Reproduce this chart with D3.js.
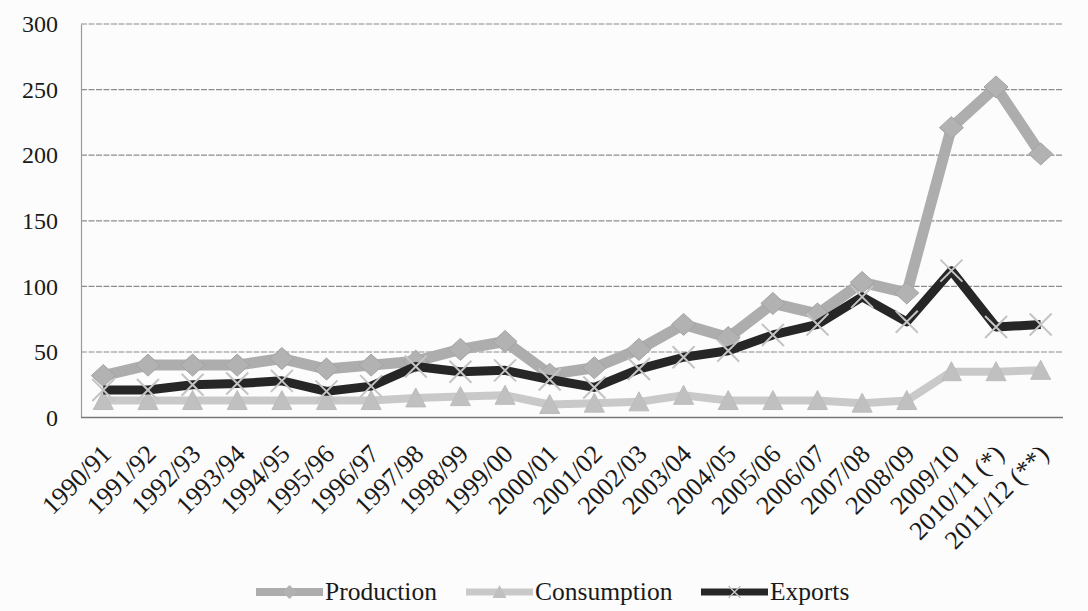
<!DOCTYPE html>
<html>
<head>
<meta charset="utf-8">
<script src="https://cdn.jsdelivr.net/npm/d3@7"></script>
<style>
  html, body { margin: 0; padding: 0; background: #fcfcfc; }
  svg { display: block; }
</style>
</head>
<body>
<svg id="chart" width="1088" height="611"></svg>
<script>
const categories = ["1990/91","1991/92","1992/93","1993/94","1994/95","1995/96","1996/97","1997/98","1998/99","1999/00","2000/01","2001/02","2002/03","2003/04","2004/05","2005/06","2006/07","2007/08","2008/09","2009/10","2010/11 (*)","2011/12 (**)"];
const production  = [32,40,40,40,45,37,40,43,52,58,33,38,52,71,61,87,79,103,95,221,252,201];
const consumption = [13,13,13,13,13,13,13,15,16,17,10,11,12,17,13,13,13,11,13,35,35,36];
const exportsData = [21,21,25,26,28,20,24,39,35,36,29,23,37,46,51,63,71,92,73,112,69,71];
const yTicks = [0,50,100,150,200,250,300];
const seriesNames = ["Production","Consumption","Exports"];

const svg = d3.select("#chart");
const W = 1088, H = 611;
const plot = {left: 81, right: 1063, top: 24, bottom: 417.6};
const font = "'Liberation Serif','Times New Roman',serif";

svg.append("rect").attr("width", W).attr("height", H).attr("fill", "#fcfcfc");

const x = d3.scalePoint().domain(categories).range([plot.left, plot.right]).padding(0.5);
const y = d3.scaleLinear().domain([0, 300]).range([plot.bottom, plot.top]);

// gridlines
svg.append("g").selectAll("line").data(yTicks.filter(t => t > 0)).join("line")
  .attr("x1", plot.left).attr("x2", plot.right)
  .attr("y1", d => y(d)).attr("y2", d => y(d))
  .attr("stroke", "#8c8c8c").attr("stroke-width", 1.2)
  .attr("stroke-dasharray", "6,1.5");

// y axis
const yAxis = svg.append("g").attr("transform", `translate(${plot.left},0)`)
  .call(d3.axisLeft(y).tickValues(yTicks).tickSize(0).tickPadding(23));
yAxis.select(".domain").attr("stroke", "#9a9a9a").attr("stroke-width", 1.2);
yAxis.selectAll("text").attr("font-family", font).attr("font-size", 24).attr("fill", "#1a1a1a");

// x axis
const xAxis = svg.append("g").attr("transform", `translate(0,${plot.bottom})`)
  .call(d3.axisBottom(x).tickSize(0));
xAxis.select(".domain").attr("stroke", "#777").attr("stroke-width", 1.5)
  .attr("d", `M${plot.left},0H${plot.right}`);
xAxis.selectAll("text")
  .attr("font-family", font).attr("font-size", 26).attr("fill", "#1a1a1a")
  .attr("text-anchor", "end").attr("x", 0).attr("y", 0).attr("dy", 0)
  .attr("transform", "translate(9,38) rotate(-45)");

// series
const prodColor = "#adadad", consColor = "#c9c9c9", expColor = "#262626";
const line = d3.line().x((d, i) => x(categories[i])).y(d => y(d));

function diamond(g, cx, cy, fill) {
  g.append("path").attr("d", `M${cx},${cy-11}L${cx+12},${cy}L${cx},${cy+11}L${cx-12},${cy}Z`)
    .attr("fill", fill).attr("stroke", "#a3a3a3").attr("stroke-width", 1);
}
function triangle(g, cx, cy, fill) {
  g.append("path").attr("d", `M${cx},${cy-10}L${cx+10},${cy+9}L${cx-10},${cy+9}Z`)
    .attr("fill", fill).attr("stroke", "#bcbcbc").attr("stroke-width", 1);
}
function cross(g, cx, cy) {
  g.append("path").attr("d", `M${cx-11},${cy-11}L${cx+11},${cy+11}M${cx-11},${cy+11}L${cx+11},${cy-11}`)
    .attr("stroke", "#c4c4c4").attr("stroke-width", 2).attr("fill", "none");
}

const gProd = svg.append("g");
gProd.append("path").datum(production).attr("d", line)
  .attr("fill", "none").attr("stroke", prodColor).attr("stroke-width", 11).attr("stroke-linejoin", "round");
production.forEach((v, i) => diamond(gProd, x(categories[i]), y(v), "#b2b2b2"));

const gCons = svg.append("g");
gCons.append("path").datum(consumption).attr("d", line)
  .attr("fill", "none").attr("stroke", consColor).attr("stroke-width", 8).attr("stroke-linejoin", "round");
consumption.forEach((v, i) => triangle(gCons, x(categories[i]), y(v), "#c0c0c0"));

const gExp = svg.append("g");
gExp.append("path").datum(exportsData).attr("d", line)
  .attr("fill", "none").attr("stroke", expColor).attr("stroke-width", 9).attr("stroke-linejoin", "round");
exportsData.forEach((v, i) => cross(gExp, x(categories[i]), y(v)));

// legend
const legendY = 592;
const legendItems = [
  {name: seriesNames[0], x0: 256, color: prodColor, marker: "diamond", w: 8},
  {name: seriesNames[1], x0: 466, color: consColor, marker: "triangle", w: 7},
  {name: seriesNames[2], x0: 701, color: expColor, marker: "cross", w: 7}
];
const lg = svg.append("g");
legendItems.forEach(it => {
  const sw = 67;
  lg.append("line").attr("x1", it.x0).attr("x2", it.x0 + sw)
    .attr("y1", legendY).attr("y2", legendY)
    .attr("stroke", it.color).attr("stroke-width", it.w);
  const cx = it.x0 + sw / 2;
  if (it.marker === "diamond") {
    lg.append("path").attr("d", `M${cx},${legendY-7}L${cx+7},${legendY}L${cx},${legendY+7}L${cx-7},${legendY}Z`).attr("fill", "#b2b2b2");
  } else if (it.marker === "triangle") {
    lg.append("path").attr("d", `M${cx},${legendY-7}L${cx+7},${legendY+6}L${cx-7},${legendY+6}Z`).attr("fill", "#c0c0c0");
  } else {
    lg.append("path").attr("d", `M${cx-6},${legendY-6}L${cx+6},${legendY+6}M${cx-6},${legendY+6}L${cx+6},${legendY-6}`)
      .attr("stroke", "#c4c4c4").attr("stroke-width", 1.5);
  }
  lg.append("text").attr("x", it.x0 + sw + 2).attr("y", legendY + 8)
    .attr("font-family", font).attr("font-size", 25.5).attr("fill", "#1a1a1a")
    .text(it.name);
});
</script>
</body>
</html>
